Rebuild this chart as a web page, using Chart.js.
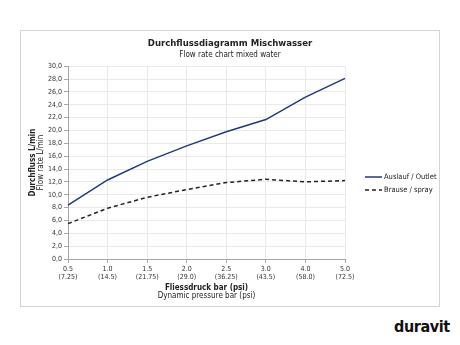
<!DOCTYPE html>
<html>
<head>
<meta charset="utf-8">
<script src="https://cdn.jsdelivr.net/npm/chart.js@4/dist/chart.umd.min.js"></script>
<style>
  html, body { margin: 0; padding: 0; background: #fff; }
  body { width: 460px; height: 345px; position: relative; overflow: hidden; font-family: "DejaVu Sans Condensed", "DejaVu Sans", sans-serif; }
  .frame { position: absolute; left: 20px; top: 30px; width: 420px; height: 277px; border: 1px solid #d4d4d4; box-sizing: border-box; }
  .frame canvas { position: absolute; left: 0; top: 0; }
  .logo { position: absolute; left: 394px; top: 317px; font-size: 16px; font-weight: bold; color: #111; letter-spacing: -0.4px; }
</style>
</head>
<body>
<div class="frame"><canvas id="flowChart" width="418" height="275"></canvas></div>
<div class="logo">duravit</div>
<script>
document.addEventListener("DOMContentLoaded", function () {
  const FONT = '"DejaVu Sans Condensed", "DejaVu Sans", sans-serif';

  // pressure steps (bar) and the same in psi
  const barLabels = ["0.5", "1.0", "1.5", "2.0", "2.5", "3.0", "4.0", "5.0"];
  const psiLabels = ["7.25", "14.5", "21.75", "29.0", "36.25", "43.5", "58.0", "72.5"];

  // flow rate in L/min
  const outletFlow = [8.4, 12.3, 15.2, 17.6, 19.8, 21.7, 25.2, 28.1];
  const sprayFlow = [5.5, 7.9, 9.6, 10.8, 11.9, 12.4, 12.0, 12.2];

  const seriesNames = ["Auslauf / Outlet", "Brause / spray"];
  const xCaption = ["Fliessdruck bar (psi)", "Dynamic pressure bar (psi)"];
  const yCaption = ["Durchfluss L/min", "Flow rate L/min"];

  // two-line axis captions: bold german line, normal english line
  const captionPlugin = {
    id: "captions",
    afterDraw(chart) {
      const { ctx, chartArea } = chart;
      ctx.save();
      ctx.fillStyle = "#222";
      ctx.textAlign = "center";
      ctx.textBaseline = "middle";
      const cx = (chartArea.left + chartArea.right) / 2;
      ctx.font = "bold 8px " + FONT;
      ctx.fillText(xCaption[0], cx, chartArea.bottom + 29);
      ctx.font = "8px " + FONT;
      ctx.fillText(xCaption[1], cx, chartArea.bottom + 37);

      const cy = (chartArea.top + chartArea.bottom) / 2;
      ctx.translate(12, cy);
      ctx.rotate(-Math.PI / 2);
      ctx.font = "bold 8px " + FONT;
      ctx.fillText(yCaption[0], 0, 0);
      ctx.font = "8px " + FONT;
      ctx.fillText(yCaption[1], 0, 8);
      ctx.restore();
    },
  };

  // legend on the right, drawn with each dataset's own line style
  const sideLegend = {
    id: "sideLegend",
    afterDraw(chart) {
      const { ctx, chartArea } = chart;
      const x0 = chartArea.right + 20;
      let y = 146;
      ctx.save();
      chart.data.datasets.forEach((ds) => {
        ctx.strokeStyle = ds.borderColor;
        ctx.lineWidth = ds.borderWidth;
        ctx.setLineDash(ds.borderDash || []);
        ctx.beginPath();
        ctx.moveTo(x0, y);
        ctx.lineTo(x0 + 17, y);
        ctx.stroke();
        ctx.setLineDash([]);
        ctx.fillStyle = "#222";
        ctx.font = "7.5px " + FONT;
        ctx.textBaseline = "middle";
        ctx.fillText(ds.label, x0 + 19, y);
        y += 13;
      });
      ctx.restore();
    },
  };

  const ctx = document.getElementById("flowChart").getContext("2d");
  new Chart(ctx, {
    type: "line",
    data: {
      labels: barLabels,
      datasets: [
        {
          label: seriesNames[0],
          data: outletFlow,
          borderColor: "#1f3a7d",
          borderWidth: 1.5,
          pointRadius: 0,
          tension: 0,
        },
        {
          label: seriesNames[1],
          data: sprayFlow,
          borderColor: "#222",
          borderWidth: 1.5,
          borderDash: [4, 3],
          pointRadius: 0,
          tension: 0,
        },
      ],
    },
    options: {
      responsive: false,
      animation: false,
      layout: { padding: 0 },
      plugins: {
        legend: { display: false },
        tooltip: { enabled: false },
        title: {
          display: true,
          text: "Durchflussdiagramm Mischwasser",
          color: "#222",
          font: { family: FONT, size: 9.5, weight: "bold", lineHeight: 1.2 },
          padding: { top: 7, bottom: 1 },
        },
        subtitle: {
          display: true,
          text: "Flow rate chart mixed water",
          color: "#222",
          font: { family: FONT, size: 8, lineHeight: 1.1 },
          padding: { top: 0, bottom: 7 },
        },
      },
      scales: {
        x: {
          offset: false,
          afterFit(s) { s.height = 47; },
          grid: { color: "#e9e9e9", tickColor: "#a6a6a6", tickLength: 4 },
          border: { color: "#a6a6a6" },
          ticks: {
            color: "#333",
            font: { family: FONT, size: 7 },
            padding: 2,
            maxRotation: 0,
            autoSkip: false,
            callback: (v, i) => [barLabels[i], "(" + psiLabels[i] + ")"],
          },
        },
        y: {
          min: 0,
          max: 30,
          afterFit(s) { s.width = 47; },
          grid: { color: "#e9e9e9", tickColor: "#a6a6a6", tickLength: 4 },
          border: { color: "#a6a6a6" },
          ticks: {
            stepSize: 2,
            color: "#333",
            font: { family: FONT, size: 7 },
            padding: 2,
            callback: (v) => v.toFixed(1).replace(".", ","),
          },
        },
        // empty right-hand axis that keeps room free for the legend
        legendRoom: {
          type: "linear",
          position: "right",
          afterFit(s) { s.width = 94; },
          grid: { display: false },
          border: { display: false },
          ticks: { display: false },
        },
      },
    },
    plugins: [captionPlugin, sideLegend],
  });
});
</script>
</body>
</html>
